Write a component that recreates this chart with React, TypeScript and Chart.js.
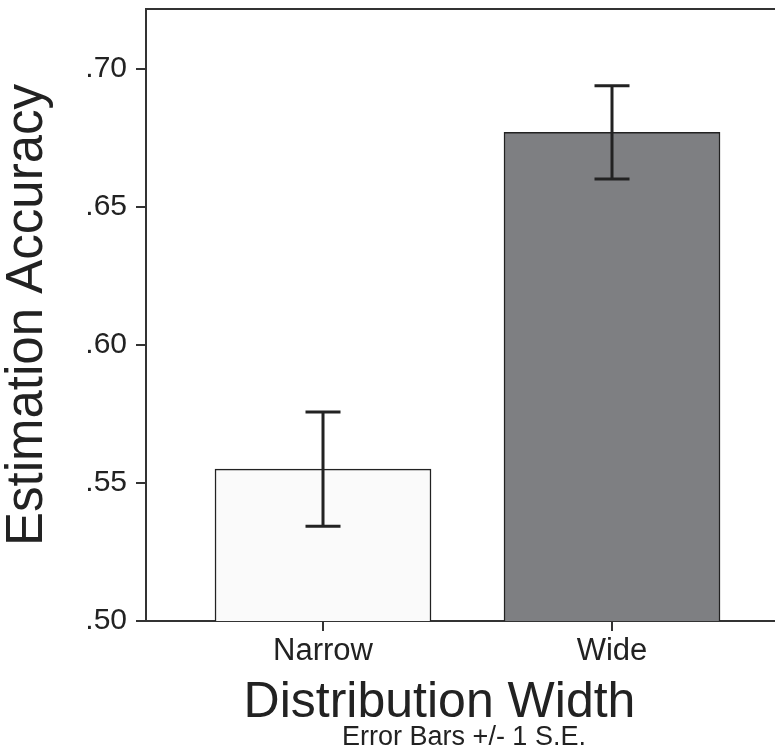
import React, { useEffect, useRef } from "react";
import { Chart, registerables } from "chart.js";

Chart.register(...registerables);

// Data
const categories = ["Narrow", "Wide"];
const meanAccuracy = [0.555, 0.677];
const standardError = [0.0207, 0.0169];
const yTickValues = [0.5, 0.55, 0.6, 0.65, 0.7];
const barFills = ["#fafafa", "#7e7f82"];

const FONT = '"Liberation Sans", Arial, Helvetica, sans-serif';
const INK = "#222222";
const AXIS = "#333333";

// Draws the ±1 SE whiskers on top of each bar.
const errorBarPlugin = {
  id: "errorBars",
  afterDatasetsDraw(chart: any) {
    const xs = chart.scales.x;
    const ys = chart.scales.y;
    const ctx = chart.ctx;
    const cap = 35;
    ctx.save();
    ctx.strokeStyle = INK;
    ctx.lineWidth = 3;
    meanAccuracy.forEach((m, i) => {
      const x = xs.getPixelForValue(i);
      const yHi = ys.getPixelForValue(m + standardError[i]);
      const yLo = ys.getPixelForValue(m - standardError[i]);
      ctx.beginPath();
      ctx.moveTo(x, yHi);
      ctx.lineTo(x, yLo);
      ctx.moveTo(x - cap / 2, yHi);
      ctx.lineTo(x + cap / 2, yHi);
      ctx.moveTo(x - cap / 2, yLo);
      ctx.lineTo(x + cap / 2, yLo);
      ctx.stroke();
    });
    ctx.restore();
  },
};

// Top frame line plus the two-line x-axis title.
const framePlugin = {
  id: "frame",
  afterDraw(chart: any) {
    const { ctx, chartArea } = chart;
    ctx.save();
    ctx.strokeStyle = AXIS;
    ctx.lineWidth = 2;
    ctx.beginPath();
    ctx.moveTo(chartArea.left - 1, chartArea.top);
    ctx.lineTo(chartArea.right, chartArea.top);
    ctx.stroke();

    ctx.fillStyle = INK;
    ctx.textAlign = "center";
    ctx.textBaseline = "alphabetic";
    ctx.font = `50px ${FONT}`;
    ctx.fillText("Distribution Width", chartArea.left + 293.5, chartArea.bottom + 96);
    ctx.font = `27px ${FONT}`;
    ctx.fillText("Error Bars +/- 1 S.E.", chartArea.left + 318, chartArea.bottom + 124);
    ctx.restore();
  },
};

export default function App() {
  const ref = useRef<HTMLCanvasElement>(null);

  useEffect(() => {
    if (!ref.current) return;
    const chart = new Chart(ref.current, {
      type: "bar",
      data: {
        datasets: [
          {
            data: meanAccuracy.map((v, i) => ({ x: i, y: v })),
            backgroundColor: barFills,
            borderColor: INK,
            borderWidth: 1.5,
            barThickness: 216,
          },
        ],
      },
      options: {
        animation: false,
        responsive: false,
        events: [],
        layout: { padding: { top: 9, right: 0, left: 0, bottom: 0 } },
        plugins: {
          legend: { display: false },
          tooltip: { enabled: false },
        },
        scales: {
          x: {
            type: "linear",
            offset: false,
            min: -0.6125,
            max: 1.564,
            afterBuildTicks: (scale: any) => {
              scale.ticks = categories.map((_, i) => ({ value: i }));
            },
            afterFit: (scale: any) => {
              scale.height = 134;
              scale.paddingLeft = 0;
              scale.paddingRight = 0;
            },
            ticks: {
              callback: (v: any) => categories[v] ?? "",
              font: { family: FONT, size: 31 },
              color: INK,
              padding: 2,
              maxRotation: 0,
              autoSkip: false,
            },
            grid: {
              offset: false,
              drawOnChartArea: false,
              drawTicks: true,
              tickLength: 10,
              color: AXIS,
              lineWidth: 2,
            },
            border: { display: true, color: AXIS, width: 2 },
          },
          y: {
            type: "linear",
            min: 0.5,
            max: 0.7217,
            afterBuildTicks: (scale: any) => {
              scale.ticks = yTickValues.map((v) => ({ value: v }));
            },
            afterFit: (scale: any) => {
              scale.width = 146;
              scale.paddingTop = 0;
              scale.paddingBottom = 0;
            },
            ticks: {
              callback: (v: any) => Number(v).toFixed(2).replace(/^0/, ""),
              font: { family: FONT, size: 30 },
              color: INK,
              padding: 9,
            },
            grid: {
              drawOnChartArea: false,
              drawTicks: true,
              tickLength: 10,
              color: AXIS,
              lineWidth: 2,
            },
            border: { display: true, color: AXIS, width: 2 },
            title: {
              display: true,
              text: "Estimation Accuracy",
              font: { family: FONT, size: 51 },
              color: INK,
              padding: { top: -3, bottom: 0 },
            },
          },
        },
      },
      plugins: [errorBarPlugin, framePlugin],
    });
    return () => chart.destroy();
  }, []);

  return (
    <div style={{ position: "absolute", left: 0, top: 0, width: 775, height: 755, background: "#fff" }}>
      <canvas ref={ref} width={775} height={755} />
    </div>
  );
}
